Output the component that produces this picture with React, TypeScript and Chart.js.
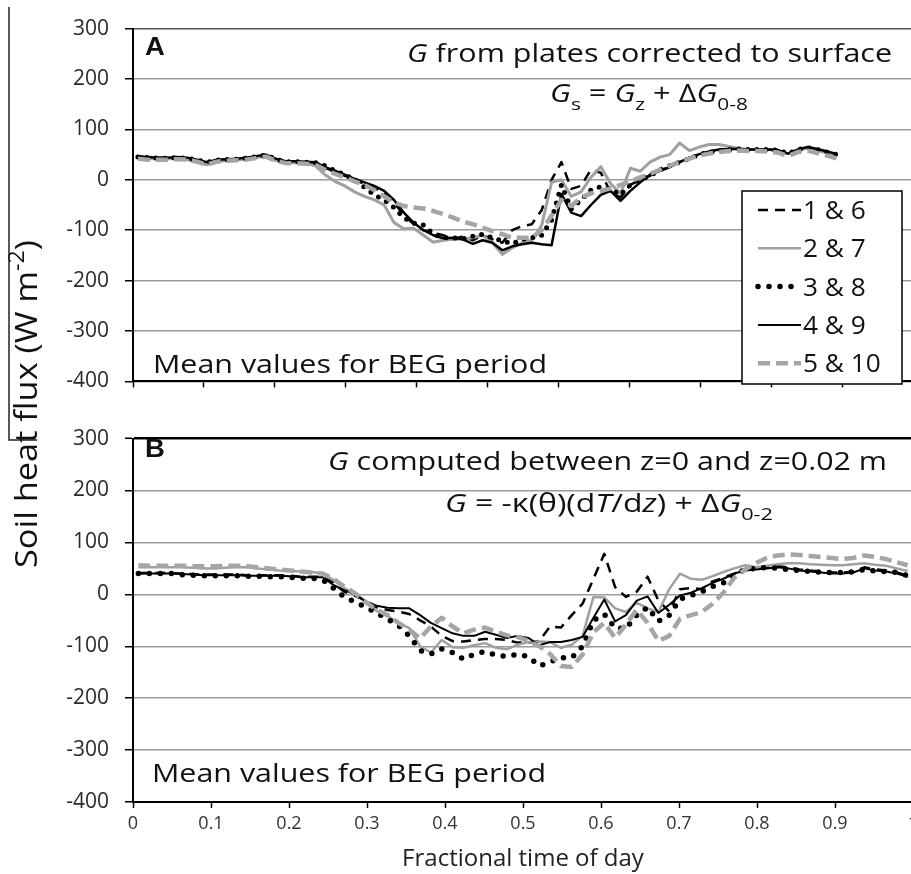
import React, { useEffect, useRef } from 'react';
import { Chart, registerables } from 'chart.js';

Chart.register(...registerables);

const FONT = '"Open Sans", Lato, sans-serif';

// Fractional time of day (20-minute averages)
const fractionalTime = [
  0.0069, 0.0208, 0.0347, 0.0486, 0.0625, 0.0764, 0.0903, 0.1042, 0.1181, 0.1319,
  0.1458, 0.1597, 0.1736, 0.1875, 0.2014, 0.2153, 0.2292, 0.2431, 0.2569, 0.2708,
  0.2847, 0.2986, 0.3125, 0.3264, 0.3403, 0.3542, 0.3681, 0.3819, 0.3958, 0.4097,
  0.4236, 0.4375, 0.4514, 0.4653, 0.4792, 0.4931, 0.5069, 0.5208, 0.5347, 0.5486,
  0.5625, 0.5764, 0.5903, 0.6042, 0.6181, 0.6319, 0.6458, 0.6597, 0.6736, 0.6875,
  0.7014, 0.7153, 0.7292, 0.7431, 0.7569, 0.7708, 0.7847, 0.7986, 0.8125, 0.8264,
  0.8403, 0.8542, 0.8681, 0.8819, 0.8958, 0.9097, 0.9236, 0.9375, 0.9514, 0.9653,
  0.9792, 0.9931,
];

const xTickLabels = ['0', '0.1', '0.2', '0.3', '0.4', '0.5', '0.6', '0.7', '0.8', '0.9', '1'];

const seriesLabels = ['1 & 6', '2 & 7', '3 & 8', '4 & 9', '5 & 10'];

// Panel A: G from plates corrected to surface
const panelA_1_6 = [
  46, 44, 43, 43, 44, 43, 39, 34, 38, 40,
  41, 43, 46, 49, 41, 37, 36, 35, 33, 24,
  16, 8, 0, -8, -15, -28, -45, -70, -88, -100,
  -105, -110, -118, -112, -120, -110, -118, -125, -100, -92,
  -88, -60, 0, 35, -18, -12, 20, 14, -25, -35,
  -10, 0, 8, 18, 26, 35, 44, 50, 55, 59,
  60, 60, 60, 60, 59, 58, 51, 59, 64, 60,
  55, 50,
];
const panelA_2_7 = [
  42, 42, 42, 42, 42, 40, 35, 30, 37, 38,
  40, 41, 44, 46, 38, 34, 34, 33, 28, 10,
  -3, -12, -24, -33, -40, -50, -85, -97, -96, -110,
  -124, -120, -118, -118, -115, -110, -125, -148, -135, -125,
  -120, -90, -5, 0, -33, -24, 5, 26, -8, -27,
  23, 17, 35, 45, 50, 73, 58, 65, 70, 70,
  66, 62, 60, 60, 60, 58, 52, 59, 63, 58,
  53, 48,
];
const panelA_3_8 = [
  45, 44, 43, 43, 44, 43, 39, 35, 39, 40,
  41, 43, 46, 49, 41, 36, 36, 35, 34, 28,
  18, 10, 0, -15, -30, -40, -55, -75, -86, -90,
  -108, -115, -115, -117, -112, -108, -115, -121, -127, -118,
  -115, -110, -80, -10, -58, -40, -20, -14, -18, -30,
  -10, 0, 8, 20, 28, 35, 42, 50, 55, 58,
  60, 61, 60, 60, 60, 59, 52, 60, 64, 60,
  55, 50,
];
const panelA_4_9 = [
  47, 45, 44, 44, 45, 44, 40, 35, 40, 41,
  42, 44, 47, 50, 42, 37, 37, 36, 35, 25,
  18, 10, 2, -5, -12, -22, -40, -65, -85, -100,
  -110, -116, -115, -118, -127, -120, -125, -140, -132, -128,
  -125, -128, -130, -28, -65, -72, -50, -30, -22, -42,
  -22, -5, 10, 18, 25, 35, 44, 51, 56, 60,
  61, 61, 60, 60, 60, 59, 52, 60, 65, 61,
  56, 51,
];
const panelA_5_10 = [
  42, 40, 40, 40, 41, 40, 36, 30, 36, 38,
  39, 40, 43, 46, 38, 33, 33, 32, 30, 20,
  12, 5, -3, -10, -20, -33, -45, -52, -55, -57,
  -62, -68, -75, -83, -88, -95, -102, -108, -115, -115,
  -115, -100, -71, -40, -52, -35, -27, -22, -17, -10,
  -3, 5, 12, 20, 28, 35, 42, 48, 52, 55,
  57, 58, 57, 57, 56, 54, 47, 55, 58, 53,
  48, 42,
];

// Panel B: G computed between z=0 and z=0.02 m
const panelB_1_6 = [
  41, 41, 41, 41, 40, 39, 38, 38, 38, 38,
  37, 37, 37, 37, 36, 34, 34, 34, 22, 5,
  -3, -12, -25, -30, -33, -38, -50, -62, -80, -90,
  -91, -88, -86, -86, -88, -93, -93, -90, -62, -64,
  -40, -18, 30, 78, 14, -5, 5, 34, -12, -33,
  10, 12, 10, 25, 32, 40, 47, 50, 52, 54,
  52, 48, 46, 44, 42, 42, 44, 52, 48, 46,
  42, 36,
];
const panelB_2_7 = [
  52, 52, 52, 52, 52, 51, 50, 50, 51, 52,
  52, 50, 48, 46, 45, 44, 43, 40, 28, 12,
  2, -15, -32, -42, -55, -65, -100, -112, -88, -102,
  -103, -98, -94, -103, -106, -97, -92, -91, -92, -103,
  -97, -80, -5, -6, -27, -34, -16, -27, -34, 10,
  40, 30, 28, 35, 43, 50, 56, 52, 55, 58,
  60, 60, 58, 57, 56, 56, 58, 60, 57, 55,
  50, 45,
];
const panelB_3_8 = [
  40, 40, 40, 40, 38, 37, 36, 36, 36, 36,
  35, 35, 34, 34, 33, 31, 31, 28, 12, -5,
  -15, -25, -36, -48, -60, -80, -108, -115, -105, -112,
  -125, -115, -110, -117, -120, -115, -120, -138, -130, -122,
  -122, -100, -50, -38, -65, -66, -40, -25, -52, -40,
  -9, -2, 5, 15, 22, 38, 48, 50, 52, 50,
  48, 46, 44, 43, 42, 42, 43, 48, 45, 44,
  42, 36,
];
const panelB_4_9 = [
  40, 40, 40, 40, 39, 38, 37, 37, 37, 37,
  36, 36, 36, 36, 35, 33, 33, 33, 18, 8,
  0, -14, -22, -26, -27, -27, -40, -55, -65, -75,
  -80, -80, -72, -78, -84, -80, -84, -98, -92, -92,
  -88, -82, -45, -10, -52, -40, -12, -4, -36, -20,
  -2, 3, 12, 22, 30, 40, 46, 48, 50, 52,
  50, 46, 44, 42, 40, 40, 42, 50, 46, 44,
  40, 34,
];
const panelB_5_10 = [
  56, 55, 55, 55, 55, 54, 54, 54, 55, 55,
  54, 52, 50, 48, 46, 44, 42, 40, 30, 15,
  2, -15, -30, -40, -55, -68, -85, -62, -45, -62,
  -75, -68, -64, -72, -79, -82, -90, -100, -115, -138,
  -140, -116, -73, -55, -84, -58, -30, -55, -90, -80,
  -47, -40, -34, -18, 3, 32, 48, 60, 70, 75,
  77, 76, 74, 72, 70, 68, 70, 75, 72, 68,
  62, 56,
];

const panelASeries = [panelA_1_6, panelA_2_7, panelA_3_8, panelA_4_9, panelA_5_10];
const panelBSeries = [panelB_1_6, panelB_2_7, panelB_3_8, panelB_4_9, panelB_5_10];

const lineStylesA = [
  { color: '#000000', width: 2.5, dash: [10, 7], cap: 'butt' },
  { color: '#a0a0a0', width: 3, dash: [] as number[], cap: 'butt' },
  { color: '#000000', width: 5, dash: [0, 9], cap: 'round' },
  { color: '#000000', width: 2.5, dash: [] as number[], cap: 'butt' },
  { color: '#a5a5a5', width: 4.5, dash: [12, 6], cap: 'butt' },
];
const lineStylesB = [
  { color: '#000000', width: 2.5, dash: [10, 7], cap: 'butt' },
  { color: '#a0a0a0', width: 2.5, dash: [] as number[], cap: 'butt' },
  { color: '#000000', width: 5.5, dash: [0, 11], cap: 'round' },
  { color: '#000000', width: 2, dash: [] as number[], cap: 'butt' },
  { color: '#a5a5a5', width: 4.5, dash: [12, 6], cap: 'butt' },
];

type Seg = { t: string; i?: boolean; sub?: boolean; sup?: boolean; b?: boolean };

function drawRich(
  ctx: CanvasRenderingContext2D,
  segs: Seg[],
  x: number,
  y: number,
  align: 'left' | 'right' | 'center',
  size: number,
  opts: { sx?: number; width?: number; color?: string; family?: string } = {}
) {
  const fam = opts.family || FONT;
  const fontOf = (s: Seg) =>
    `${s.i ? 'italic ' : ''}${s.b ? 'bold ' : ''}${s.sub || s.sup ? Math.round(size * 0.68) : size}px ${fam}`;
  const widths = segs.map((s) => {
    ctx.font = fontOf(s);
    return ctx.measureText(s.t).width;
  });
  const total = widths.reduce((a, b) => a + b, 0);
  const sx = opts.width ? opts.width / total : opts.sx ?? 1;
  ctx.save();
  ctx.fillStyle = opts.color || '#111';
  ctx.textBaseline = 'alphabetic';
  ctx.textAlign = 'left';
  ctx.translate(x, y);
  ctx.scale(sx, 1);
  let cx = align === 'right' ? -total : align === 'center' ? -total / 2 : 0;
  segs.forEach((s, k) => {
    ctx.font = fontOf(s);
    const dy = s.sub ? size * 0.3 : s.sup ? -size * 0.42 : 0;
    ctx.fillText(s.t, cx, dy);
    cx += widths[k];
  });
  ctx.restore();
}

const yTitleSegs: Seg[] = [{ t: 'Soil heat flux (W m' }, { t: '-2', sup: true }, { t: ')' }];

function drawYTitle(ctx: CanvasRenderingContext2D, offsetY: number) {
  ctx.save();
  ctx.translate(37, 404 - offsetY);
  ctx.rotate(-Math.PI / 2);
  drawRich(ctx, yTitleSegs, 0, 0, 'center', 31, { width: 328, color: '#111' });
  ctx.restore();
}

function drawEdge(ctx: CanvasRenderingContext2D, pts: number[][]) {
  ctx.save();
  ctx.strokeStyle = '#222';
  ctx.lineWidth = 1.5;
  ctx.beginPath();
  pts.forEach((p, i) => (i === 0 ? ctx.moveTo(p[0], p[1]) : ctx.lineTo(p[0], p[1])));
  ctx.stroke();
  ctx.restore();
}

function drawLegend(ctx: CanvasRenderingContext2D) {
  ctx.save();
  ctx.fillStyle = '#fff';
  ctx.fillRect(742, 191, 160, 193);
  ctx.strokeStyle = '#000';
  ctx.lineWidth = 1.5;
  ctx.strokeRect(742, 191, 160, 193);
  seriesLabels.forEach((lab, k) => {
    const st = lineStylesB[k];
    const y = 210 + k * 38.3;
    ctx.save();
    ctx.beginPath();
    ctx.setLineDash(st.dash);
    ctx.lineCap = st.cap as CanvasLineCap;
    ctx.lineWidth = st.width;
    ctx.strokeStyle = st.color;
    ctx.moveTo(758, y);
    ctx.lineTo(801, y);
    ctx.stroke();
    ctx.restore();
    drawRich(ctx, [{ t: lab }], 803, y + 9, 'left', 25, { sx: 1.05 });
  });
  ctx.restore();
}

function decoA(chart: Chart) {
  const ctx = chart.ctx;
  drawYTitle(ctx, 0);
  drawEdge(ctx, [[9, 7], [9, 410]]);
  drawRich(ctx, [{ t: 'A', b: true }], 145, 55, 'left', 25, { family: '"Liberation Sans", Arial, sans-serif', sx: 1.1 });
  drawRich(ctx, [{ t: 'G', i: true }, { t: ' from plates corrected to surface' }], 892, 62, 'right', 25, { width: 485 });
  drawRich(
    ctx,
    [{ t: 'G', i: true }, { t: 's', sub: true }, { t: ' = ' }, { t: 'G', i: true }, { t: 'z', sub: true }, { t: ' + Δ' }, { t: 'G', i: true }, { t: '0-8', sub: true }],
    550, 102, 'left', 25, { width: 198 }
  );
  drawRich(ctx, [{ t: 'Mean values for BEG period' }], 153, 373, 'left', 25, { width: 394 });
  drawLegend(ctx);
}

function decoB(chart: Chart) {
  const ctx = chart.ctx;
  const off = 410;
  drawYTitle(ctx, off);
  drawEdge(ctx, [[9, 0], [9, 440 - off], [37, 440 - off]]);
  drawRich(ctx, [{ t: 'B', b: true }], 145, 457 - off, 'left', 25, { family: '"Liberation Sans", Arial, sans-serif', sx: 1.1 });
  drawRich(ctx, [{ t: 'G', i: true }, { t: ' computed between z=0 and z=0.02 m' }], 887, 470 - off, 'right', 25, { width: 559 });
  drawRich(
    ctx,
    [{ t: 'G', i: true }, { t: ' = -κ(θ)(d' }, { t: 'T', i: true }, { t: '/d' }, { t: 'z', i: true }, { t: ') + Δ' }, { t: 'G', i: true }, { t: '0-2', sub: true }],
    445, 512 - off, 'left', 25, { width: 328 }
  );
  drawRich(ctx, [{ t: 'Mean values for BEG period' }], 152, 782 - off, 'left', 25, { width: 394 });
}

function buildConfig(panel: 'A' | 'B'): any {
  const series = panel === 'A' ? panelASeries : panelBSeries;
  const isB = panel === 'B';
  const styles = isB ? lineStylesB : lineStylesA;
  return {
    type: 'line',
    data: {
      datasets: seriesLabels.map((label, k) => ({
        label,
        data: fractionalTime.map((t, i) => ({ x: t, y: series[k][i] })),
        borderColor: styles[k].color,
        borderWidth: styles[k].width,
        borderDash: styles[k].dash,
        borderCapStyle: styles[k].cap,
        borderJoinStyle: 'round',
        pointRadius: 0,
        tension: 0,
        fill: false,
        order: 4 - k,
      })),
    },
    options: {
      responsive: false,
      animation: false,
      devicePixelRatio: 1,
      layout: { padding: { left: 0, right: 17, top: isB ? 18 : 19, bottom: 0 } },
      plugins: { legend: { display: false }, tooltip: { enabled: false } },
      scales: {
        x: {
          type: 'linear',
          min: 0,
          max: isB ? 1 : 1.1,
          ticks: {
            stepSize: 0.1,
            display: isB,
            autoSkip: false,
            maxRotation: 0,
            callback: (_v: any, idx: number) => xTickLabels[idx] ?? '',
            font: { size: 18, family: FONT },
            color: '#333',
            padding: 5,
          },
          grid: { drawOnChartArea: false, drawTicks: true, tickLength: 6, tickColor: '#000', tickWidth: 1.5 },
          border: { color: '#000', width: 2 },
          title: isB
            ? { display: true, text: 'Fractional time of day', font: { size: 24, family: FONT }, color: '#222', padding: { top: 0, bottom: 0 } }
            : { display: false },
          afterFit: (s: any) => {
            s.height = isB ? 72 : 19;
          },
        },
        y: {
          type: 'linear',
          min: -400,
          max: 300,
          ticks: { stepSize: 100, font: { size: 21, family: FONT }, color: '#2a2a2a', padding: 16 },
          grid: {
            color: (c: any) => (c.tick && c.tick.value === 300 ? (isB ? '#000' : '#555') : '#9a9a9a'),
            lineWidth: (c: any) => (c.tick && c.tick.value === 300 && isB ? 2.5 : 1.5),
            tickLength: 8,
            tickColor: '#000',
            tickWidth: 1.5,
          },
          border: { color: '#000', width: 2 },
          afterFit: (s: any) => {
            s.width = 133;
          },
        },
      },
    },
    plugins: [{ id: 'deco' + panel, afterDraw: isB ? decoB : decoA }],
  };
}

export default function App() {
  const refA = useRef<HTMLCanvasElement>(null);
  const refB = useRef<HTMLCanvasElement>(null);
  useEffect(() => {
    const cA = new Chart(refA.current as HTMLCanvasElement, buildConfig('A'));
    const cB = new Chart(refB.current as HTMLCanvasElement, buildConfig('B'));
    return () => {
      cA.destroy();
      cB.destroy();
    };
  }, []);
  return (
    <div style={{ position: 'absolute', left: 0, top: 0, width: 911, height: 874, overflow: 'hidden', background: '#fff' }}>
      <canvas ref={refA} width={930} height={410} style={{ position: 'absolute', left: 0, top: 0, width: 930, height: 410 }} />
      <canvas ref={refB} width={930} height={464} style={{ position: 'absolute', left: 0, top: 410, width: 930, height: 464 }} />
    </div>
  );
}
